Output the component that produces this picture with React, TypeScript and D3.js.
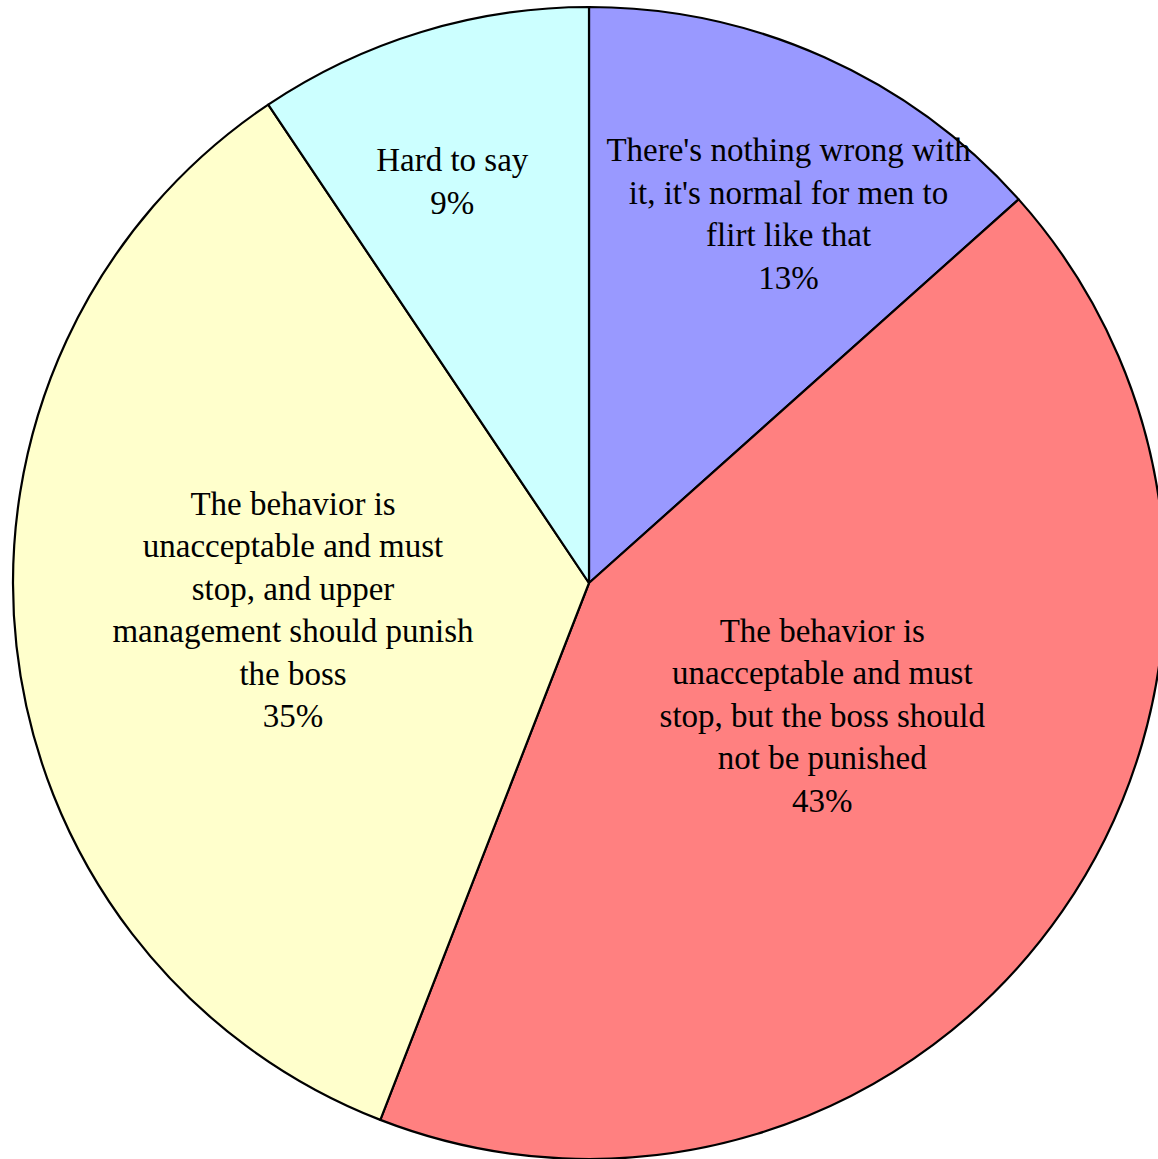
import React from "react";
import * as d3 from "d3";

const categories = [
  "There's nothing wrong with it, it's normal for men to flirt like that",
  "The behavior is unacceptable and must stop, but the boss should not be punished",
  "The behavior is unacceptable and must stop, and upper management should punish the boss",
  "Hard to say",
];
const values = [13.4, 42.5, 34.7, 9.4];
const percentLabels = ["13%", "43%", "35%", "9%"];
const labelLines = [
  ["There's nothing wrong with", "it, it's normal for men to", "flirt like that"],
  ["The behavior is", "unacceptable and must", "stop, but the boss should", "not be punished"],
  ["The behavior is", "unacceptable and must", "stop, and upper", "management should punish", "the boss"],
  ["Hard to say"],
];
const colors = ["#9999ff", "#ff8080", "#ffffcc", "#ccffff"];
// label placement: angle offset (deg) from slice middle, radius fraction
const labelAngleOffset = [4.3, -5.1, 1.1, -1.9];
const labelRadiusFrac = [0.728, 0.466, 0.516, 0.736];

const W = 1158;
const H = 1159;
const cx = 589;
const cy = 583;
const R = 576;
const fontSize = 33;
const lineH = 42.5;

export default function App() {
  const pie = d3.pie<number>().sort(null).value((d) => d);
  const arcs = pie(values);
  const arc = d3.arc<d3.PieArcDatum<number>>().innerRadius(0).outerRadius(R);
  return (
    <svg
      width={W}
      height={H}
      style={{ position: "absolute", left: 0, top: 0, background: "#fff" }}
    >
      <g transform={`translate(${cx},${cy})`}>
        {arcs.map((a, i) => (
          <path
            key={categories[i]}
            d={arc(a) || ""}
            fill={colors[i]}
            stroke="#000"
            strokeWidth={2.2}
            strokeLinejoin="round"
          />
        ))}
        {arcs.map((a, i) => {
          const mid = (a.startAngle + a.endAngle) / 2 + (labelAngleOffset[i] * Math.PI) / 180;
          const rr = R * labelRadiusFrac[i];
          const x = rr * Math.sin(mid);
          const y = -rr * Math.cos(mid);
          const lines = [...labelLines[i], percentLabels[i]];
          const y0 = y - ((lines.length - 1) * lineH) / 2;
          return (
            <text
              key={"t" + i}
              x={x}
              textAnchor="middle"
              fontFamily="'Liberation Serif', 'Times New Roman', serif"
              fontSize={fontSize}
              fill="#000"
            >
              {lines.map((l, j) => (
                <tspan key={j} x={x} y={y0 + j * lineH} dy="0.33em">
                  {l}
                </tspan>
              ))}
            </text>
          );
        })}
      </g>
    </svg>
  );
}
